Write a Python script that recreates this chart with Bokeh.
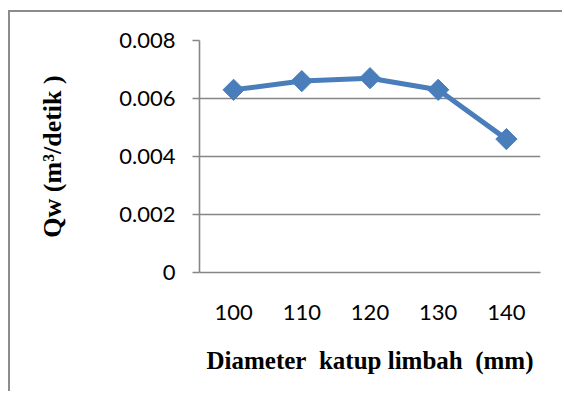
from bokeh.plotting import figure
from bokeh.models import Range1d, FactorRange, FixedTicker, NumeralTickFormatter
from bokeh.embed import file_html
from bokeh.resources import INLINE
import numpy as np

# ---- data ----
categories = ["100", "110", "120", "130", "140"]
qw_values = [0.0063, 0.0066, 0.0067, 0.0063, 0.0046]
y_ticks = [0, 0.002, 0.004, 0.006, 0.008]
x_title = "Diameter\u00a0 katup limbah\u00a0 (mm)"
y_title = "Qw (m\u00b3/detik )"

GREY = "#868686"
BLUE = "#4A7EBB"

p = figure(
    width=554, height=381,
    x_range=FactorRange(*categories),
    y_range=Range1d(0, 0.008),
    output_backend="svg", toolbar_location=None,
    min_border_left=189, min_border_right=24,
    min_border_top=28, min_border_bottom=121,
    styles={"border-left": "2px solid #8c8c8c", "border-top": "2px solid #8c8c8c",
            "margin-top": "10px", "margin-left": "8px"},
)
p.outline_line_color = None
p.background_fill_color = "white"
p.border_fill_color = "white"

# grid
p.xgrid.grid_line_color = None
p.ygrid.grid_line_color = GREY
p.ygrid.grid_line_width = 1.6
p.ygrid.ticker = FixedTicker(ticks=y_ticks)

# y axis
ya = p.yaxis[0]
ya.ticker = FixedTicker(ticks=y_ticks)
ya.formatter = NumeralTickFormatter(format="0.[000]")
ya.axis_line_color = GREY
ya.axis_line_width = 1.6
ya.major_tick_line_color = GREY
ya.major_tick_line_width = 1.6
ya.major_tick_out = 7
ya.major_tick_in = 0
ya.minor_tick_line_color = None
ya.major_label_standoff = 17
ya.major_label_text_font = "Lato"
ya.major_label_text_font_size = "22px"
ya.major_label_text_color = "#000000"
ya.axis_label = y_title
ya.axis_label_text_font = "Liberation Serif"
ya.axis_label_text_font_style = "bold"
ya.axis_label_text_font_size = "26px"
ya.axis_label_text_color = "#000000"
ya.axis_label_standoff = 49

# x axis
xa = p.xaxis[0]
xa.axis_line_color = GREY
xa.axis_line_width = 1.6
xa.major_tick_line_color = None
xa.major_tick_out = 0
xa.major_tick_in = 0
xa.minor_tick_line_color = None
xa.major_label_standoff = 32
xa.major_label_text_font = "Lato"
xa.major_label_text_font_size = "22px"
xa.major_label_text_color = "#000000"
xa.axis_label = x_title
xa.axis_label_text_font = "Liberation Serif"
xa.axis_label_text_font_style = "bold"
xa.axis_label_text_font_size = "25px"
xa.axis_label_text_color = "#000000"
xa.axis_label_standoff = 24

# series
p.line(categories, qw_values, line_color=BLUE, line_width=5)
p.scatter(categories, qw_values, marker="square", angle=np.pi / 4, size=15,
          fill_color=BLUE, line_color=BLUE)

open("out.html", "w").write(file_html(p, INLINE))
